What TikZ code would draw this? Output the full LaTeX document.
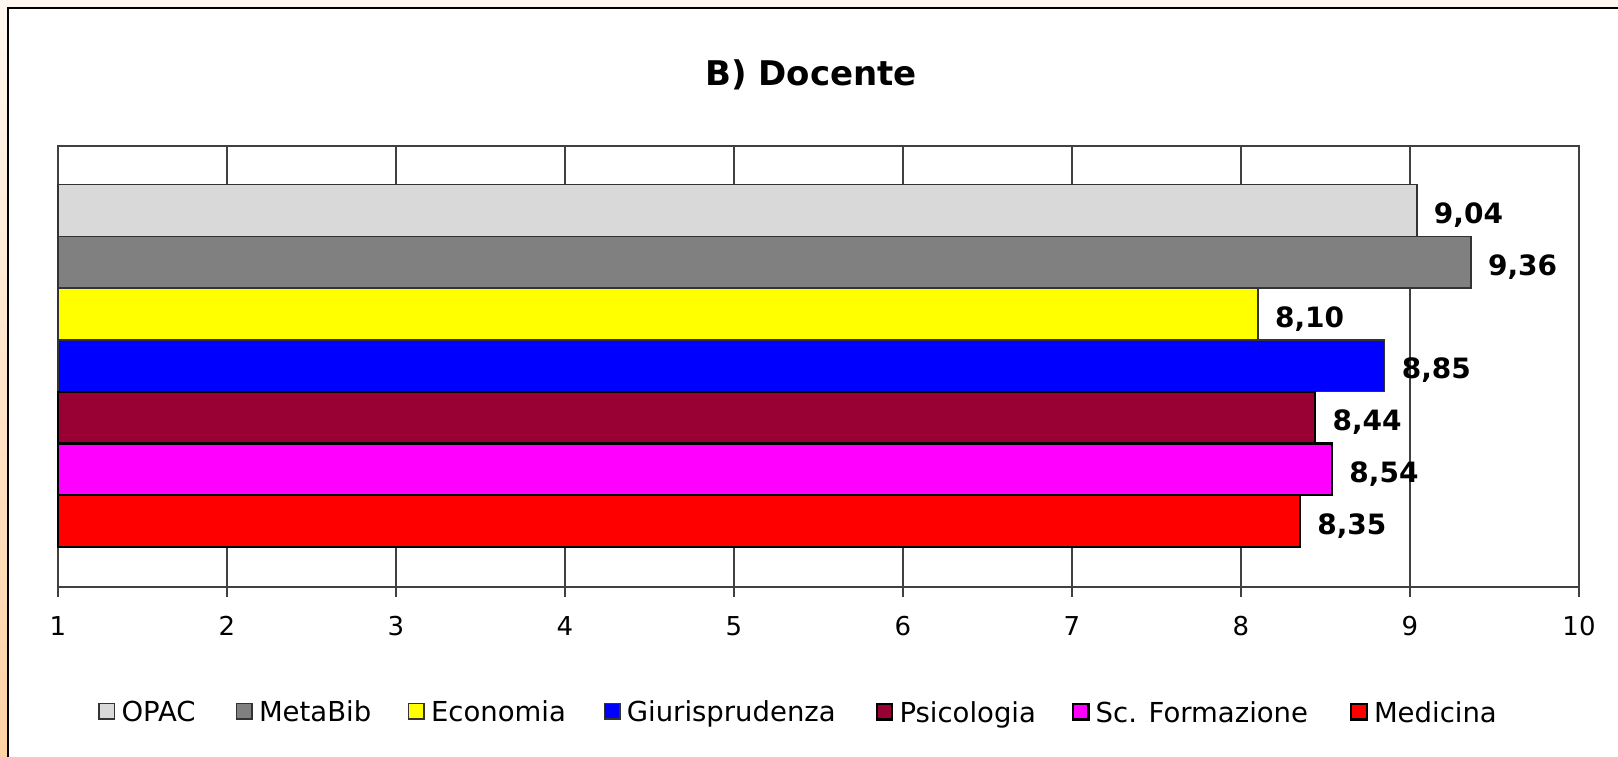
\documentclass[tikz,border=0pt]{standalone}
\usepackage{fontspec}
\setmainfont{DejaVu Sans}
\usetikzlibrary{positioning,calc}
\definecolor{bgtop}{HTML}{FFF7F0}
\definecolor{bgbottom}{HTML}{FFD2A4}
\definecolor{axisgray}{HTML}{404040}
\definecolor{bargray}{HTML}{333333}
\definecolor{opac}{HTML}{D9D9D9}
\definecolor{metabib}{HTML}{808080}
\definecolor{economia}{HTML}{FFFF00}
\definecolor{giuris}{HTML}{0000FF}
\definecolor{psico}{HTML}{990033}
\definecolor{scform}{HTML}{FF00FF}
\definecolor{medicina}{HTML}{FF0000}
\newcommand{\xv}[1]{58+(#1-1)*169}
\begin{document}
\begin{tikzpicture}[x=1pt,y=-1pt,
 gridline/.style={draw=axisgray, line width=1.5pt},
 bar/.style={draw=bargray, line width=1.5pt},
 darkbar/.style={draw=black, line width=2.2pt},
 vlabel/.style={anchor=base west, inner sep=0pt, font=\fontsize{28}{34}\selectfont\bfseries},
 ticklabel/.style={anchor=base, inner sep=0pt, font=\fontsize{26}{31}\selectfont},
 key/.style={minimum size=15.6pt, inner sep=0pt, anchor=north west},
 keytext/.style={anchor=base west, inner sep=0pt, font=\fontsize{27.5}{33}\selectfont}]
\useasboundingbox (0,0) rectangle (1618,756);
\clip (0,0) rectangle (1618,756);
% background and frame
\begin{scope}[y=1pt]
\shade[top color=bgtop, bottom color=bgbottom] (0,-756) rectangle (1618,0);
\end{scope}
\draw[fill=white, line width=2pt] (8,8) rectangle (1640,780);
\node[anchor=base, font=\fontsize{34}{40}\selectfont\bfseries] (title) at (811,85) {B) Docente};
% grid and axis
\foreach \t in {2,...,9}
  \draw[gridline] ({\xv{\t}},146) -- ({\xv{\t}},587);
\foreach \t in {1,...,10} {
  \draw[gridline] ({\xv{\t}},587) -- ({\xv{\t}},597);
  \node[ticklabel] (tick\t) at ({\xv{\t}},635) {\t};
}
\draw[gridline, line width=2pt] (58,146) rectangle (1579,587);
% bars
\draw[bar, fill=opac] (58,184.5) rectangle ({\xv{9.04}},236.3);
\draw[bar, fill=metabib] (58,236.3) rectangle ({\xv{9.36}},288.1);
\draw[bar, fill=economia] (58,288.1) rectangle ({\xv{8.10}},339.9);
\draw[bar, fill=giuris] (58,339.9) rectangle ({\xv{8.85}},391.7);
\draw[darkbar, fill=psico] (58,391.7) rectangle ({\xv{8.44}},443.5);
\draw[darkbar, fill=scform] (58,443.5) rectangle ({\xv{8.54}},495.3);
\draw[darkbar, fill=medicina] (58,495.3) rectangle ({\xv{8.35}},547.1);
% values
\node[vlabel] (v1) at ({\xv{9.04}+17},223) {9,04};
\node[vlabel] (v2) at ({\xv{9.36}+17},275) {9,36};
\node[vlabel] (v3) at ({\xv{8.10}+17},327) {8,10};
\node[vlabel] (v4) at ({\xv{8.85}+17},378) {8,85};
\node[vlabel] (v5) at ({\xv{8.44}+17},430) {8,44};
\node[vlabel] (v6) at ({\xv{8.54}+17},482) {8,54};
\node[vlabel] (v7) at ({\xv{8.35}+17},534) {8,35};
% legend
\node[key, bar, fill=opac] (k1) at (98.3,702.7) {};
\node[key, bar, fill=metabib] (k2) at (235.7,702.7) {};
\node[key, bar, fill=economia] (k3) at (407.7,702.7) {};
\node[key, bar, fill=giuris] (k4) at (603.5,702.7) {};
\node[key, darkbar, fill=psico] (k5) at (875.5,702.7) {};
\node[key, darkbar, fill=scform] (k6) at (1071.7,702.7) {};
\node[key, darkbar, fill=medicina] (k7) at (1350,702.7) {};
\node[keytext] (l1) at ($(k1.south east)+(6,1.5)$) {OPAC};
\node[keytext] (l2) at ($(k2.south east)+(6,1.5)$) {MetaBib};
\node[keytext] (l3) at ($(k3.south east)+(6,1.5)$) {Economia};
\node[keytext] (l4) at ($(k4.south east)+(6,1.5)$) {Giurisprudenza};
\node[keytext] (l5) at ($(k5.south east)+(6,1.5)$) {Psicologia};
\node[keytext] (l6) at ($(k6.south east)+(6,1.5)$) {Sc. Formazione};
\node[keytext] (l7) at ($(k7.south east)+(6,1.5)$) {Medicina};
\end{tikzpicture}
\end{document}
